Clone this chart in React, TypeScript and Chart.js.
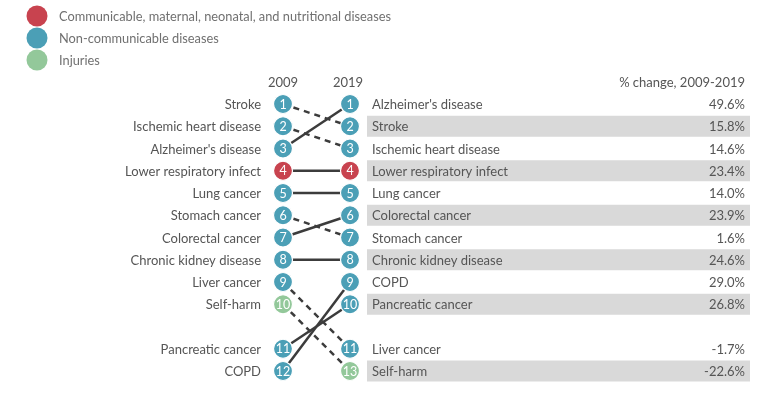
import React, { useEffect, useRef } from "react";
import { Chart, registerables } from "chart.js";
Chart.register(...registerables);

// ---- Data ----
const causes = [
  "Stroke",
  "Ischemic heart disease",
  "Alzheimer's disease",
  "Lower respiratory infect",
  "Lung cancer",
  "Stomach cancer",
  "Colorectal cancer",
  "Chronic kidney disease",
  "Liver cancer",
  "Self-harm",
  "Pancreatic cancer",
  "COPD",
];
const rank2009 = [1, 2, 3, 4, 5, 6, 7, 8, 9, 10, 11, 12];
const rank2019 = [2, 3, 1, 4, 5, 7, 6, 8, 11, 13, 10, 9];
const categoryIndex = [1, 1, 1, 0, 1, 1, 1, 1, 1, 2, 1, 1];
const pctChange = [15.8, 14.6, 49.6, 23.4, 14.0, 1.6, 23.9, 24.6, -1.7, -22.6, 26.8, 29.0];
const categoryNames = [
  "Communicable, maternal, neonatal, and nutritional diseases",
  "Non-communicable diseases",
  "Injuries",
];
const categoryColors = ["#c8434f", "#4b9fb6", "#93c89a"];
const years = ["2009", "2019"];
const changeHeader = "% change, 2009-2019";

const FONT = "Lato, 'Open Sans', sans-serif";
const TEXT = "#555555";

function slotOf(order: number[], i: number) {
  // position in display list (0-based index), with a gap after the top 10
  const idx = order.indexOf(i);
  return idx + 1 + (idx >= 10 ? 1 : 0);
}

export default function App() {
  const ref = useRef<HTMLCanvasElement | null>(null);
  useEffect(() => {
    if (!ref.current) return;
    const idx = causes.map((_, i) => i);
    const orderL = [...idx].sort((a, b) => rank2009[a] - rank2009[b]);
    const orderR = [...idx].sort((a, b) => rank2019[a] - rank2019[b]);
    const slotL = idx.map((i) => slotOf(orderL, i));
    const slotR = idx.map((i) => slotOf(orderR, i));

    const datasets = idx.map((i) => ({
      label: causes[i],
      data: [
        { x: 0, y: slotL[i] },
        { x: 1, y: slotR[i] },
      ],
      showLine: true,
      borderColor: "#3c3c3c",
      borderWidth: 2.5,
      borderDash: rank2019[i] > rank2009[i] ? [6, 5] : [],
      pointRadius: 9.5,
      pointHoverRadius: 9.5,
      pointBackgroundColor: categoryColors[categoryIndex[i]],
      pointBorderColor: "#ffffff",
      pointBorderWidth: 1.2,
    }));

    const overlay = {
      id: "overlay",
      beforeDatasetsDraw(chart: any) {
        const ctx = chart.ctx;
        const xs = chart.scales.x;
        const ys = chart.scales.y;
        const right = xs.getPixelForValue(1);
        ctx.save();
        ctx.fillStyle = "#d9d9d9";
        orderR.forEach((ci, k) => {
          if (k % 2 === 1) {
            const y = ys.getPixelForValue(slotR[ci]);
            ctx.fillRect(right + 17, y - 10.5, 750 - (right + 17), 21);
          }
        });
        ctx.restore();
      },
      afterDatasetsDraw(chart: any) {
        const ctx = chart.ctx;
        const xs = chart.scales.x;
        const ys = chart.scales.y;
        const left = xs.getPixelForValue(0);
        const right = xs.getPixelForValue(1);
        ctx.save();
        ctx.textBaseline = "middle";
        // numbers in circles
        ctx.fillStyle = "#ffffff";
        ctx.font = `12.5px ${FONT}`;
        ctx.textAlign = "center";
        idx.forEach((i) => {
          ctx.fillText(String(rank2009[i]), left, ys.getPixelForValue(slotL[i]) + 0.5);
          ctx.fillText(String(rank2019[i]), right, ys.getPixelForValue(slotR[i]) + 0.5);
        });
        // left labels
        ctx.fillStyle = TEXT;
        ctx.font = `13px ${FONT}`;
        ctx.textAlign = "right";
        idx.forEach((i) => {
          ctx.fillText(causes[i], left - 22, ys.getPixelForValue(slotL[i]) + 1);
        });
        // right labels and values
        orderR.forEach((ci) => {
          const y = ys.getPixelForValue(slotR[ci]) + 1;
          ctx.textAlign = "left";
          ctx.fillText(causes[ci], right + 22, y);
          ctx.textAlign = "right";
          ctx.fillText(pctChange[ci].toFixed(1) + "%", 745, y);
        });
        // headers
        const hy = ys.getPixelForValue(0) + 1;
        ctx.textAlign = "center";
        ctx.fillText(years[0], left, hy);
        ctx.fillText(years[1], right - 2, hy);
        ctx.textAlign = "right";
        ctx.fillText(changeHeader, 745, hy);
        // legend
        ctx.font = `12.8px ${FONT}`;
        categoryNames.forEach((name, k) => {
          const y = 16 + k * 22;
          ctx.beginPath();
          ctx.arc(37, y, 10.5, 0, Math.PI * 2);
          ctx.fillStyle = categoryColors[k];
          ctx.fill();
          ctx.fillStyle = "#707070";
          ctx.textAlign = "left";
          ctx.fillText(name, 59, y + 1);
        });
        ctx.restore();
      },
    };

    const chart = new Chart(ref.current, {
      type: "scatter",
      data: { datasets: datasets as any },
      options: {
        animation: false,
        responsive: true,
        maintainAspectRatio: false,
        layout: { padding: 0, autoPadding: false },
        plugins: { legend: { display: false }, tooltip: { enabled: false } },
        scales: {
          x: { type: "linear", min: -283 / 67, max: -283 / 67 + 768 / 67, display: false },
          y: { type: "linear", reverse: true, min: 1 - 104 / 22.25, max: 1 - 104 / 22.25 + 412 / 22.25, display: false },
        },
      },
      plugins: [overlay],
    });
    return () => chart.destroy();
  }, []);

  return (
    <div style={{ position: "fixed", left: 0, top: 0, width: 768, height: 412, background: "#fff" }}>
      <canvas ref={ref} />
    </div>
  );
}
